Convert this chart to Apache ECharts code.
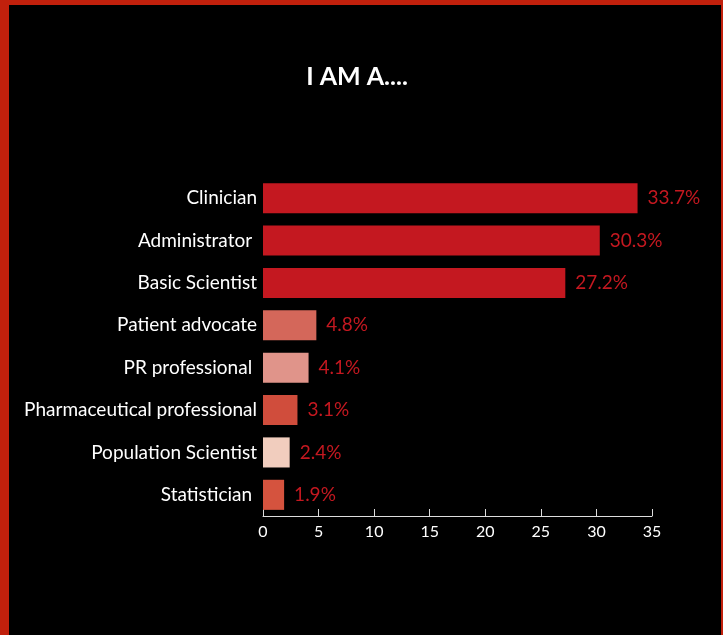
<!DOCTYPE html>
<html>
<head>
<meta charset="utf-8">
<script src="https://cdn.jsdelivr.net/npm/echarts@6/dist/echarts.min.js"></script>
<style>
    html, body { margin: 0; padding: 0; background: #000; }
    #frame {
        position: absolute; left: 0; top: 0; width: 723px; height: 635px;
        box-sizing: border-box; background: #000;
        border-left: 9px solid #c1200c; border-top: 5px solid #c1200c; border-right: 2px solid #c1200c;
    }
    #chart { position: absolute; left: 0; top: 0; width: 723px; height: 635px; }
</style>
</head>
<body>
<div id="frame"></div>
<div id="chart"></div>
<script>
const categories = ['Clinician', 'Administrator ', 'Basic Scientist', 'Patient advocate',
    'PR professional ', 'Pharmaceutical professional', 'Population Scientist', 'Statistician '];
const values = [33.7, 30.3, 27.2, 4.8, 4.1, 3.1, 2.4, 1.9];
const barColors = ['#c41820', '#c41820', '#c41820', '#d4675a', '#e0948a', '#d04d3c', '#f1cdbe', '#d5533e'];
const xTicks = [0, 5, 10, 15, 20, 25, 30, 35];

const font = 'Lato, "Open Sans", sans-serif';
const chart = echarts.init(document.getElementById('chart'));
chart.setOption({
    backgroundColor: 'transparent',
    animation: false,
    title: {
        text: 'I AM A....',
        left: 352,
        textAlign: 'center',
        top: 59,
        textStyle: {color: '#fff', fontFamily: font, fontWeight: 'bold', fontSize: 25},
    },
    grid: {left: 263, right: 71, top: 177, bottom: 119},
    xAxis: {
        type: 'value',
        min: xTicks[0],
        max: xTicks[xTicks.length - 1],
        interval: 5,
        splitLine: {show: false},
        axisLine: {show: true, lineStyle: {color: '#ddd', width: 1}},
        axisTick: {show: true, inside: true, length: 7, lineStyle: {color: '#ddd'}},
        axisLabel: {color: '#fff', fontFamily: font, fontSize: 16, margin: 8},
    },
    yAxis: {
        type: 'category',
        inverse: true,
        data: categories,
        axisLine: {show: false},
        axisTick: {show: false},
        axisLabel: {color: '#fff', fontFamily: font, fontSize: 19, margin: 6},
    },
    series: [{
        type: 'bar',
        barCategoryGap: '29%',
        data: values.map((v, i) => ({value: v, itemStyle: {color: barColors[i]}})),
        label: {
            show: true,
            position: 'right',
            distance: 10,
            color: '#c41820',
            fontFamily: font,
            fontSize: 19,
            formatter: (p) => p.value.toFixed(1) + '%',
        },
    }],
});
</script>
</body>
</html>
